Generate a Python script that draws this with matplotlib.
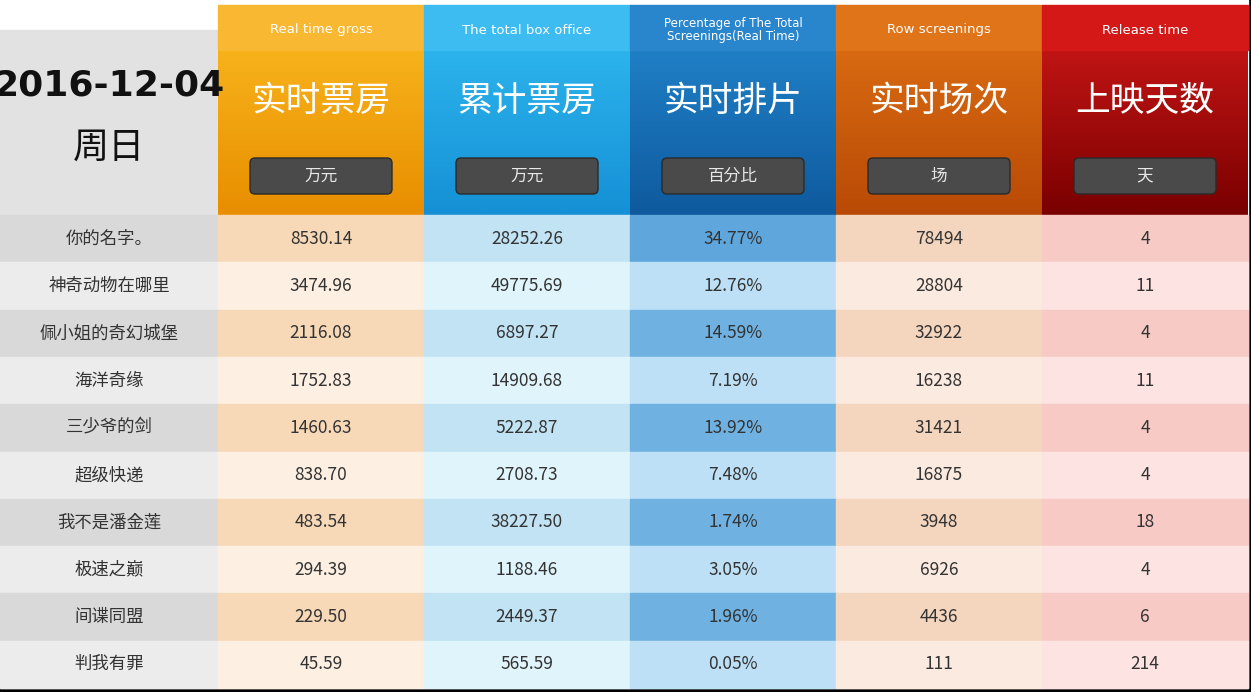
import matplotlib
matplotlib.use('Agg')
import matplotlib.pyplot as plt
from matplotlib import font_manager
from matplotlib.patches import Rectangle, FancyBboxPatch
import numpy as np

# pick whatever CJK family is actually registered
cjk = [f.name for f in font_manager.fontManager.ttflist if 'CJK' in f.name]
cjk_pref = [n for n in ["Noto Sans CJK SC", "Noto Sans CJK JP", "Noto Sans CJK TC", "Noto Sans CJK KR"] if n in cjk]
cjk_font = cjk_pref[0] if cjk_pref else (cjk[0] if cjk else 'DejaVu Sans')
plt.rcParams['font.family'] = [cjk_font, 'DejaVu Sans']

# Data
date_label = "2016-12-04"
weekday = "周日"
en_headers = ["Real time gross", "The total box office",
              "Percentage of The Total\nScreenings(Real Time)", "Row screenings", "Release time"]
cn_headers = ["实时票房", "累计票房", "实时排片", "实时场次", "上映天数"]
units = ["万元", "万元", "百分比", "场", "天"]
films = ["你的名字。", "神奇动物在哪里", "佩小姐的奇幻城堡", "海洋奇缘", "三少爷的剑",
         "超级快递", "我不是潘金莲", "极速之巅", "间谍同盟", "判我有罪"]
realtime_gross = ["8530.14", "3474.96", "2116.08", "1752.83", "1460.63",
                  "838.70", "483.54", "294.39", "229.50", "45.59"]
total_box = ["28252.26", "49775.69", "6897.27", "14909.68", "5222.87",
             "2708.73", "38227.50", "1188.46", "2449.37", "565.59"]
share = ["34.77%", "12.76%", "14.59%", "7.19%", "13.92%",
         "7.48%", "1.74%", "3.05%", "1.96%", "0.05%"]
screenings = ["78494", "28804", "32922", "16238", "31421",
              "16875", "3948", "6926", "4436", "111"]
days = ["4", "11", "4", "11", "4", "4", "18", "4", "6", "214"]
columns = [realtime_gross, total_box, share, screenings, days]

# Styles
W, H = 1251, 692
colw, labw = 206, 218
head_top, head_bot = 5, 215
row_h = (688 - head_bot) / 10
head_cols = [("#f7b21a", "#e88e00"), ("#2cb3ec", "#1590d6"), ("#1f7fc6", "#0f5a9e"),
             ("#d86a12", "#b84a06"), ("#c01414", "#7a0000")]
strip_cols = ["#f9b832", "#3cbcf0", "#2a86cc", "#e07418", "#d41818"]
row_cols = [("#d9d9d9", "#ececec"), ("#f7d9b8", "#fdf0e3"), ("#c2e3f3", "#e0f4fc"),
            ("#6fb2e2", "#bde0f6"), ("#f4d6bf", "#fbeadf"), ("#f7cac6", "#fde4e2")]

fig = plt.figure(figsize=(W / 100, H / 100), dpi=100)
ax = fig.add_axes([0, 0, 1, 1])
ax.set_xlim(0, W)
ax.set_ylim(H, 0)
ax.axis('off')
ax.add_patch(Rectangle((0, 0), W, H, color='black', zorder=0))
ax.add_patch(Rectangle((0, 0), 1248, 688, color='white', zorder=0))

# left header
ax.add_patch(Rectangle((0, 30), labw, head_bot - 30, color='#e2e2e2', zorder=1))
ax.text(labw / 2, 85, date_label, ha='center', va='center', fontsize=26,
        fontweight='bold', family='Liberation Sans Narrow', color='#111111')
ax.text(labw / 2, 148, weekday, ha='center', va='center', fontsize=26, color='#111111')

for i in range(5):
    left = labw + i * colw
    c1, c2 = head_cols[i]
    grad = np.linspace(0, 1, 100)[:, None]
    cmap = matplotlib.colors.LinearSegmentedColormap.from_list('g', [c1, c2])
    ax.imshow(grad, extent=(left, left + colw, head_bot, 50), cmap=cmap,
              aspect='auto', zorder=1)
    ax.add_patch(Rectangle((left, head_top), colw, 45, color=strip_cols[i], zorder=1))
    fs = 8.5 if '\n' in en_headers[i] else 9.5
    ax.text(left + colw / 2, 30, en_headers[i], ha='center', va='center',
            fontsize=fs, color='white', family='DejaVu Sans', linespacing=0.95)
    ax.text(left + colw / 2, 101, cn_headers[i], ha='center', va='center',
            fontsize=25, color='white')
    ax.add_patch(FancyBboxPatch((left + 32, 158), colw - 64, 36,
                                boxstyle='round,pad=0,rounding_size=5',
                                fc='#4a4a4a', ec='#2a2a2a', zorder=2))
    ax.text(left + colw / 2, 176, units[i], ha='center', va='center',
            fontsize=12, color='#e8e8e8', zorder=3)

for r in range(10):
    top = head_bot + r * row_h
    k = 0 if r % 2 == 0 else 1
    ax.add_patch(Rectangle((0, top), labw, row_h, color=row_cols[0][k], zorder=1))
    ax.text(labw / 2, top + row_h / 2, films[r], ha='center', va='center',
            fontsize=12.5, color='#333333', zorder=3)
    for i in range(5):
        left = labw + i * colw
        col = row_cols[i + 1][k]
        if i == 2 and r == 0:
            col = '#5ea6dc'
        ax.add_patch(Rectangle((left, top), colw, row_h, color=col, zorder=1))
        ax.text(left + colw / 2, top + row_h / 2, columns[i][r], ha='center',
                va='center', fontsize=12.5, color='#333333', zorder=3)

fig.savefig('out.png', dpi=100)
